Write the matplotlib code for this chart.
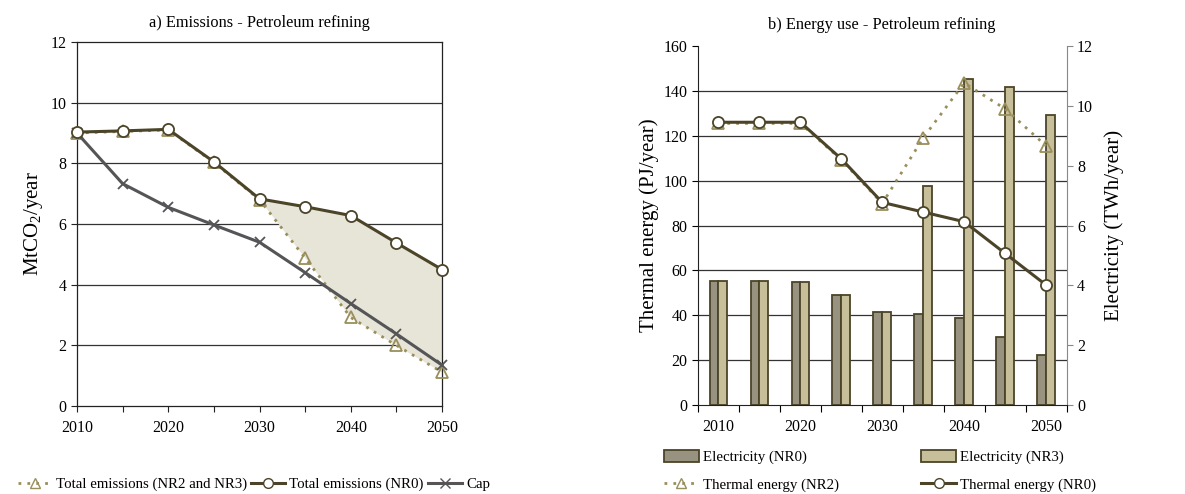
import matplotlib
matplotlib.use("Agg")
import matplotlib.pyplot as plt
import numpy as np
from matplotlib.patches import Patch
from matplotlib.lines import Line2D

plt.rcParams['font.family'] = ['Liberation Serif', 'DejaVu Serif']
plt.rcParams['mathtext.fontset'] = 'custom'
plt.rcParams['mathtext.rm'] = 'Liberation Serif'
plt.rcParams['mathtext.it'] = 'Liberation Serif:italic'

years = [2010, 2015, 2020, 2025, 2030, 2035, 2040, 2045, 2050]
emis_nr0 = [9.03, 9.07, 9.12, 8.05, 6.83, 6.57, 6.28, 5.38, 4.50]
emis_nr23 = [9.00, 9.05, 9.10, 8.03, 6.80, 4.88, 2.92, 2.00, 1.12]
cap = [9.00, 7.33, 6.55, 5.97, 5.40, 4.40, 3.38, 2.38, 1.35]

elec_nr0 = [4.15, 4.13, 4.10, 3.67, 3.11, 3.03, 2.92, 2.26, 1.68]
elec_nr3 = [4.15, 4.13, 4.10, 3.67, 3.11, 7.32, 10.90, 10.62, 9.70]
therm_nr0 = [126.0, 126.0, 126.0, 109.7, 90.3, 86.0, 81.7, 67.6, 53.5]
therm_nr2 = [125.5, 125.5, 125.5, 109.3, 89.8, 119.0, 143.5, 132.0, 115.5]

c_nr0 = '#4b4429'
c_nr2 = '#9a8f5c'
c_cap = '#555558'
c_bar0 = '#979380'
c_bar3 = '#c7bf9a'
c_edge = '#4b4429'
c_fill = '#e7e5d8'

TICK = 11.5
LAB = 15
TITLE = 11.8
LEG = 10.7

fig = plt.figure(figsize=(11.85, 4.94), dpi=100)

# ---------------- Panel a ----------------
ax1 = fig.add_axes([0.065, 0.178, 0.308, 0.737])
yrs = np.array(years)
i0 = years.index(2030)
ax1.fill_between(yrs[i0:], np.array(emis_nr23)[i0:], np.array(emis_nr0)[i0:],
                 color=c_fill, zorder=1, linewidth=0)
ax1.plot(years, emis_nr23, linestyle=(0, (1, 2.2)), color=c_nr2, lw=2,
         marker='^', markersize=8, markerfacecolor='none', markeredgecolor=c_nr2,
         markeredgewidth=1.3, zorder=3, clip_on=False)
ax1.plot(years, emis_nr0, color=c_nr0, lw=2.2, marker='o', markersize=8,
         markerfacecolor='white', markeredgecolor=c_nr0, markeredgewidth=1.3, zorder=4,
         clip_on=False)
ax1.plot(years, cap, color=c_cap, lw=2.2, marker='x', markersize=7,
         markeredgewidth=1.3, zorder=3, clip_on=False)
ax1.set_xlim(2010, 2050)
ax1.set_ylim(0, 12)
ax1.set_yticks(range(0, 13, 2))
ax1.set_xticks(years, minor=False)
ax1.set_xticklabels([str(y) if y % 10 == 0 else '' for y in years])
for y in range(2, 12, 2):
    ax1.axhline(y, color='#333333', lw=0.9, zorder=0)
ax1.tick_params(labelsize=TICK, direction='out', length=4, width=0.8, color='#222222')
ax1.tick_params(axis='x', pad=6)
ax1.set_ylabel('MtCO$_2$/year', fontsize=LAB, labelpad=4)
ax1.set_title('a) Emissions - Petroleum refining', fontsize=TITLE, pad=11)
for s in ax1.spines.values():
    s.set_color('#222222')
    s.set_linewidth(0.9)

h1 = [Line2D([], [], linestyle=(0, (1, 2.2)), color=c_nr2, lw=2, marker='^', markersize=7,
             markerfacecolor='none', markeredgecolor=c_nr2),
      Line2D([], [], color=c_nr0, lw=2.2, marker='o', markersize=7,
             markerfacecolor='white', markeredgecolor=c_nr0),
      Line2D([], [], color=c_cap, lw=2.2, marker='x', markersize=7)]
fig.legend(h1, ['Total emissions (NR2 and NR3)', 'Total emissions (NR0)', 'Cap'],
           loc='center left', bbox_to_anchor=(0.010, 0.02), ncol=3, frameon=False,
           fontsize=LEG, handlelength=2.3, handletextpad=0.25, columnspacing=0.3,
           borderaxespad=0)

# ---------------- Panel b ----------------
ax2 = fig.add_axes([0.589, 0.180, 0.311, 0.727])
ax3 = ax2.twinx()
x = np.arange(len(years))
bw = 0.215
ax3.bar(x - bw / 2, elec_nr0, width=bw, color=c_bar0, edgecolor=c_edge, linewidth=1.3, zorder=2)
ax3.bar(x + bw / 2, elec_nr3, width=bw, color=c_bar3, edgecolor=c_edge, linewidth=1.3, zorder=2)
ax3.set_ylim(0, 12)
ax3.set_yticks(range(0, 13, 2))
ax2.set_ylim(0, 160)
ax2.set_yticks(range(0, 161, 20))
for y in range(20, 160, 20):
    ax3.axhline(y * 12 / 160, color='#333333', lw=0.9, zorder=1)
ax2.set_zorder(ax3.get_zorder() + 1)
ax2.patch.set_visible(False)
ax2.plot(x, therm_nr2, linestyle=(0, (1, 2.2)), color=c_nr2, lw=2, marker='^', markersize=8,
         markerfacecolor='none', markeredgecolor=c_nr2, markeredgewidth=1.3, zorder=3)
ax2.plot(x, therm_nr0, color=c_nr0, lw=2.2, marker='o', markersize=8,
         markerfacecolor='white', markeredgecolor=c_nr0, markeredgewidth=1.3, zorder=4)
ax2.set_xlim(-0.5, len(years) - 0.5)
ax2.set_xticks(np.arange(len(years) + 1) - 0.5)
ax2.set_xticklabels([])
ax2.set_xticks(x[::2], minor=True)
ax2.set_xticklabels([str(years[i]) for i in x[::2]], minor=True)
ax2.tick_params(axis='x', which='minor', length=0, pad=10, labelsize=TICK)
ax2.tick_params(axis='x', which='major', direction='out', length=5, width=0.8)
ax2.tick_params(axis='y', labelsize=TICK, direction='out', length=4, width=0.8)
ax3.tick_params(axis='y', labelsize=TICK, direction='out', length=4, width=0.8, color='#888888')
ax2.set_ylabel('Thermal energy (PJ/year)', fontsize=LAB, labelpad=3)
ax3.set_ylabel('Electricity (TWh/year)', fontsize=LAB, labelpad=8)
ax2.set_title('b) Energy use - Petroleum refining', fontsize=TITLE, pad=12)
for a in (ax2, ax3):
    a.spines['top'].set_visible(False)
ax2.spines['right'].set_visible(False)
ax3.spines['right'].set_color('#888888')
ax3.spines['left'].set_visible(False)
ax3.spines['bottom'].set_visible(False)
ax2.spines['left'].set_color('#222222')
ax2.spines['bottom'].set_color('#222222')

h2 = [Patch(facecolor=c_bar0, edgecolor=c_edge, linewidth=1.3),
      Line2D([], [], linestyle=(0, (1, 2.2)), color=c_nr2, lw=2, marker='^', markersize=7,
             markerfacecolor='none', markeredgecolor=c_nr2),
      Patch(facecolor=c_bar3, edgecolor=c_edge, linewidth=1.3),
      Line2D([], [], color=c_nr0, lw=2.2, marker='o', markersize=7,
             markerfacecolor='white', markeredgecolor=c_nr0)]
fig.legend(h2, ['Electricity (NR0)', 'Thermal energy (NR2)', 'Electricity (NR3)', 'Thermal energy (NR0)'],
           loc='center left', bbox_to_anchor=(0.555, 0.047), ncol=2, frameon=False,
           fontsize=LEG, handlelength=2.4, handleheight=0.9, handletextpad=0.25,
           columnspacing=5.5, labelspacing=0.85, borderaxespad=0)

fig.savefig('out.png', dpi=100)
